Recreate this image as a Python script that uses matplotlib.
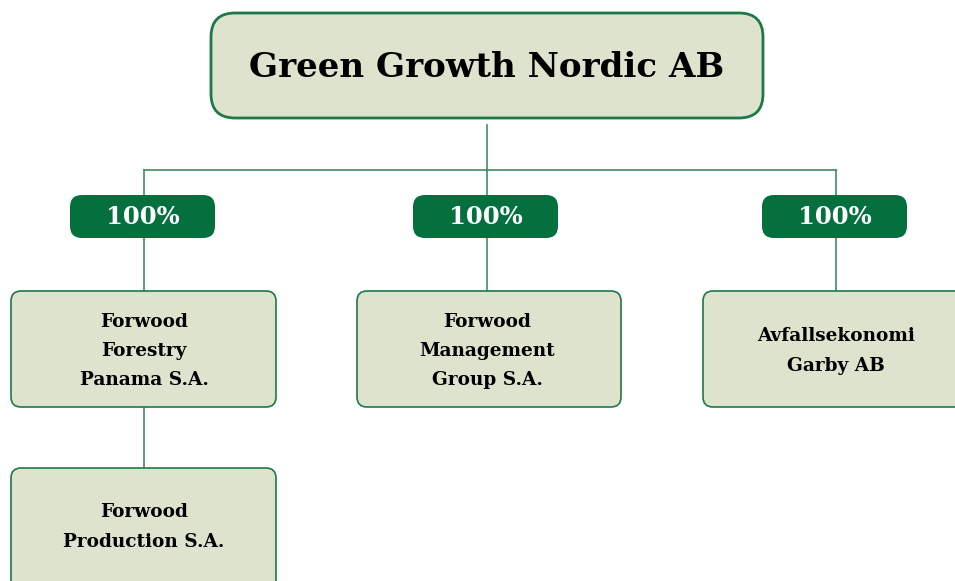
import matplotlib
matplotlib.use("Agg")
import matplotlib.pyplot as plt
from matplotlib.patches import FancyBboxPatch

# Org chart data
parent_name = "Green Growth Nordic AB"
subsidiaries = ["Forwood\nForestry\nPanama S.A.",
                "Forwood\nManagement\nGroup S.A.",
                "Avfallsekonomi\nGarby AB"]
ownership = ["100%", "100%", "100%"]
sub_sub_name = "Forwood\nProduction S.A."

# Layout (pixel coordinates, y downward)
col_x = [144, 487, 836]
child_boxes = [(11, 291, 265, 116), (357, 291, 264, 116), (703, 291, 270, 116)]
badge_w, badge_h, badge_y = 145, 43, 195
sub_box = (11, 468, 265, 130)
top_box = (211, 13, 552, 105)

fill = "#dde3cd"
edge = "#1c7a48"
badge_col = "#03703d"
line_col = "#3f8d60"
font = "DejaVu Serif"

fig = plt.figure(figsize=(9.55, 5.81), dpi=100)
ax = fig.add_axes([0, 0, 1, 1])
ax.set_xlim(0, 955)
ax.set_ylim(581, 0)
ax.axis("off")

# connector lines
ax.plot([487, 487], [125, 170], color=line_col, lw=1.2, zorder=1)
ax.plot([col_x[0], col_x[-1]], [170, 170], color=line_col, lw=1.2, zorder=1)
for i, x in enumerate(col_x):
    ax.plot([x, x], [170, child_boxes[i][1]], color=line_col, lw=1.2, zorder=1)
ax.plot([col_x[0], col_x[0]], [407, 468], color=line_col, lw=1.2, zorder=1)

# top box
x, y, w, h = top_box
ax.add_patch(FancyBboxPatch((x, y), w, h, boxstyle="round,pad=0,rounding_size=24",
                            fc=fill, ec=edge, lw=2.0, zorder=2))
ax.text(x + w / 2, y + h / 2 + 2, parent_name, ha="center", va="center",
        fontsize=24.6, fontweight="bold", family=font, color="black", zorder=3)

# badges and child boxes
for i, x in enumerate(col_x):
    ax.add_patch(FancyBboxPatch((x - badge_w / 2 - 1.5, badge_y), badge_w, badge_h,
                                boxstyle="round,pad=0,rounding_size=12",
                                fc=badge_col, ec="none", zorder=2))
    ax.text(x - 1, badge_y + badge_h / 2 + 1, ownership[i], ha="center", va="center",
            fontsize=17.5, fontweight="bold", family=font, color="white", zorder=3)

    bx, by, bw, bh = child_boxes[i]
    ax.add_patch(FancyBboxPatch((bx, by), bw, bh, boxstyle="round,pad=0,rounding_size=10",
                                fc=fill, ec=edge, lw=1.2, zorder=2))
    ax.text(x, by + bh / 2 + 2, subsidiaries[i], ha="center", va="center",
            fontsize=13.3, fontweight="bold", family=font, color="black",
            linespacing=1.8, zorder=3)

# sub-subsidiary
bx, by, bw, bh = sub_box
ax.add_patch(FancyBboxPatch((bx, by), bw, bh, boxstyle="round,pad=0,rounding_size=10",
                            fc=fill, ec=edge, lw=1.2, zorder=2))
ax.text(col_x[0], 527, sub_sub_name, ha="center", va="center",
        fontsize=13.3, fontweight="bold", family=font, color="black",
        linespacing=1.8, zorder=3)

fig.savefig("out.png", dpi=100, facecolor="white")
